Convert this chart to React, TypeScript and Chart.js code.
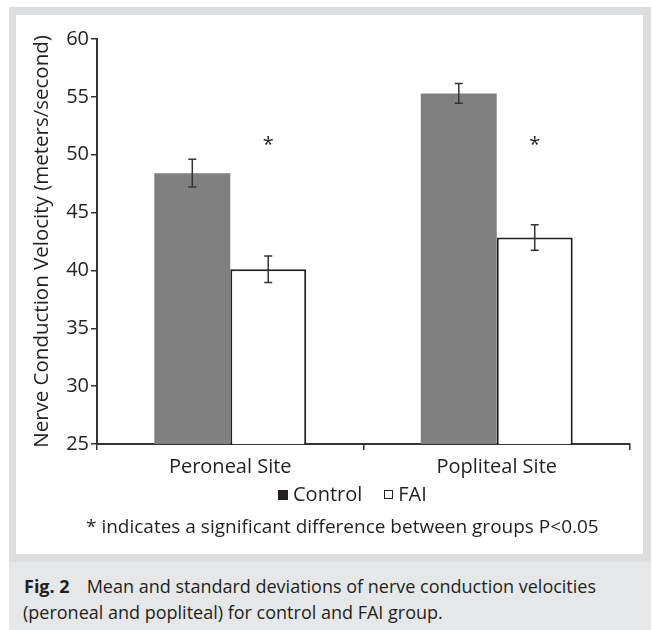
import React, { useEffect, useRef } from 'react';
import { Chart, registerables } from 'chart.js';

Chart.register(...registerables);

// ---- data ----
const categories = ['Peroneal Site', 'Popliteal Site'];
const seriesNames = ['Control', 'FAI'];
const controlMeans = [48.4, 55.3];
const controlSD = [1.2, 0.85];
const faiMeans = [40.1, 42.85];
const faiSD = [1.15, 1.1];
const significant = [true, true];
const sigLevel = 51.2; // data value where the "*" marks sit
const yMin = 25;
const yMax = 60;
const yStep = 5;
const yTitle = 'Nerve Conduction Velocity (meters/second)';
const footnote = '* indicates a significant difference between groups P<0.05';
const captionLabel = 'Fig. 2';
const captionLine1 = 'Mean and standard deviations of nerve conduction velocities';
const captionLine2 = '(peroneal and popliteal) for control and FAI group.';

const FONT = '"Open Sans", "Noto Sans", sans-serif';
const INK = '#231f20';
const CONTROL_FILL = '#808080';
const LEGEND_CONTROL = '#231f20';

const errorBarPlugin = {
  id: 'errorBarsAndStars',
  afterDatasetsDraw(chart: any) {
    const ctx = chart.ctx;
    const y = chart.scales.y;
    const sds = [controlSD, faiSD];
    ctx.save();
    ctx.strokeStyle = '#333';
    ctx.lineWidth = 1.5;
    chart.data.datasets.forEach((ds: any, di: number) => {
      const meta = chart.getDatasetMeta(di);
      meta.data.forEach((bar: any, i: number) => {
        const m = ds.data[i];
        const sd = sds[di][i];
        const top = y.getPixelForValue(m + sd);
        const bot = y.getPixelForValue(m - sd);
        ctx.beginPath();
        ctx.moveTo(bar.x, top);
        ctx.lineTo(bar.x, bot);
        ctx.moveTo(bar.x - 4, top);
        ctx.lineTo(bar.x + 4, top);
        ctx.moveTo(bar.x - 4, bot);
        ctx.lineTo(bar.x + 4, bot);
        ctx.stroke();
      });
    });
    // significance stars above FAI bars
    const faiMeta = chart.getDatasetMeta(1);
    ctx.fillStyle = INK;
    ctx.font = '20px ' + FONT;
    ctx.textAlign = 'center';
    ctx.textBaseline = 'alphabetic';
    faiMeta.data.forEach((bar: any, i: number) => {
      if (!significant[i]) return;
      const py = y.getPixelForValue(sigLevel);
      ctx.fillText('*', bar.x, py + 10);
    });
    ctx.restore();
  },
};

function ChartView() {
  const ref = useRef<HTMLCanvasElement | null>(null);
  useEffect(() => {
    if (!ref.current) return;
    const chart = new Chart(ref.current, {
      type: 'bar',
      data: {
        labels: categories,
        datasets: [
          {
            label: seriesNames[0],
            data: controlMeans,
            backgroundColor: CONTROL_FILL,
            borderWidth: 0,
            categoryPercentage: 0.57,
            barPercentage: 1.0,
          },
          {
            label: seriesNames[1],
            data: faiMeans,
            backgroundColor: '#ffffff',
            borderColor: INK,
            borderWidth: 2,
            categoryPercentage: 0.57,
            barPercentage: 1.0,
          },
        ],
      },
      options: {
        animation: false,
        responsive: false,
        maintainAspectRatio: false,
        layout: { padding: { left: 6, right: 13, top: 24, bottom: 70 } },
        plugins: {
          tooltip: { enabled: false },
          legend: { display: false },
          title: { display: false },
        },
        scales: {
          x: {
            type: 'category',
            offset: true,
            grid: { display: true, drawOnChartArea: false, drawTicks: true, tickLength: 6, offset: true, color: '#333', lineWidth: 1.5 },
            border: { display: true, color: '#333', width: 2 },
            ticks: { font: { size: 20, family: FONT }, color: INK, padding: 5 },
          },
          y: {
            min: yMin,
            max: yMax,
            ticks: { stepSize: yStep, font: { size: 20, family: FONT }, color: INK, padding: 2 },
            grid: { display: true, drawOnChartArea: false, drawTicks: true, tickLength: 6, color: '#333', lineWidth: 1.5 },
            border: { display: true, color: '#333', width: 2 },
            title: { display: true, text: yTitle, font: { size: 20.5, family: FONT }, color: INK, padding: { top: 8, bottom: 2 } },
            afterFit: (scale: any) => { scale.width = 75; },
          },
        },
      },
      plugins: [errorBarPlugin],
    });
    return () => chart.destroy();
  }, []);
  return <canvas ref={ref} width={627} height={539} style={{ display: 'block', width: 627, height: 539 }} />;
}

function LegendBox({ filled }: { filled: boolean }) {
  return (
    <span
      style={{
        display: 'inline-block',
        width: filled ? 10 : 7,
        height: filled ? 10 : 7,
        background: filled ? LEGEND_CONTROL : '#fff',
        border: filled ? 'none' : '1.5px solid ' + INK,
        marginRight: 5,
        verticalAlign: 'middle',
        position: 'relative',
        top: -1,
      }}
    />
  );
}

export default function App() {
  return (
    <div style={{ position: 'absolute', left: 0, top: 0, width: 652, height: 630, background: '#fff', overflow: 'hidden', fontFamily: FONT }}>
      <div style={{ position: 'absolute', left: 9, top: 7, width: 642, height: 555, background: '#dcdddf' }}>
        <div style={{ position: 'absolute', left: 7, top: 8, width: 627, height: 539, background: '#fff' }}>
          <ChartView />
          <div style={{ position: 'absolute', left: 262, top: 467, fontSize: 20, lineHeight: '24px', color: INK, whiteSpace: 'nowrap' }}>
            <LegendBox filled={true} />
            <span>{seriesNames[0]}</span>
            <span style={{ display: 'inline-block', width: 22 }} />
            <LegendBox filled={false} />
            <span>{seriesNames[1]}</span>
          </div>
          <div style={{ position: 'absolute', left: 70, top: 499, fontSize: 19, lineHeight: '24px', color: INK, whiteSpace: 'nowrap' }}>
            {footnote}
          </div>
        </div>
      </div>
      <div style={{ position: 'absolute', left: 9, top: 562, width: 642, height: 68, background: '#e6e7e8', color: INK, fontSize: 18, lineHeight: '26px' }}>
        <div style={{ position: 'absolute', left: 15, top: 11, whiteSpace: 'nowrap' }}>
          <b>{captionLabel}</b>
          <span style={{ marginLeft: 17 }}>{captionLine1}</span>
        </div>
        <div style={{ position: 'absolute', left: 14, top: 37, whiteSpace: 'nowrap' }}>{captionLine2}</div>
      </div>
    </div>
  );
}
